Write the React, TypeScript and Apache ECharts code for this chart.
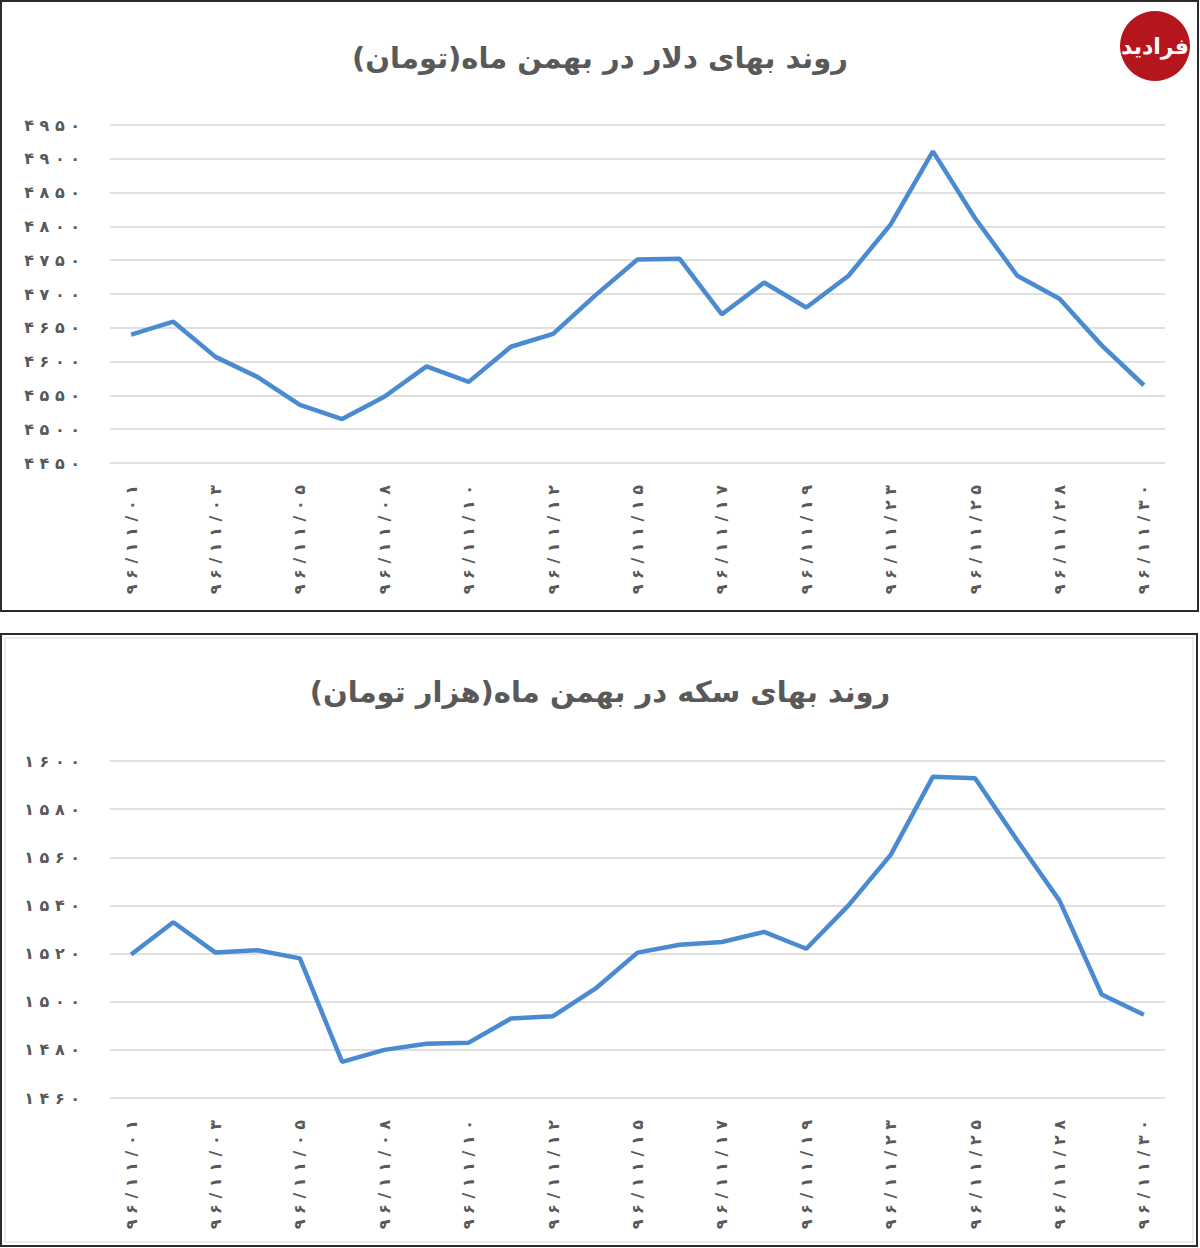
import React, { useEffect, useRef } from "react";
import * as echarts from "echarts";

const dates = ["01","02","03","04","05","07","08","09","10","11","12","14","15","16","17","18","19","21","23","24","25","26","28","29","30"].map((d) => "96/11/" + d);

const dollarValues = [4640, 4659, 4607, 4577, 4536, 4515, 4548, 4593, 4570, 4622, 4641, 4698, 4751, 4752, 4670, 4717, 4680, 4727, 4803, 4911, 4812, 4727, 4693, 4624, 4565];
const coinValues = [1519.6, 1533, 1520.4, 1521.4, 1518, 1475, 1480, 1482.5, 1483, 1493, 1494, 1505.4, 1520.4, 1523.7, 1524.8, 1529, 1522, 1540, 1561, 1593.5, 1592.8, 1567, 1542, 1503, 1494.6];

const dollarAxis = { min: 4450, max: 4950, interval: 50 };
const coinAxis = { min: 1460, max: 1600, interval: 20 };

const titleDollar = "روند بهای دلار در بهمن ماه(تومان)";
const titleCoin = "روند بهای سکه در بهمن ماه(هزار تومان)";
const logoText = "فرادید";

const FA = "۰۱۲۳۴۵۶۷۸۹";
const toFa = (s: string) => s.replace(/\d/g, (d) => FA[+d]);
const spaced = (s: string) => toFa(s).split("").join(" ");

const GRAY = "#595959";
const LINE = "#4a8ad0";

export default function App() {
  const ref = useRef<HTMLDivElement>(null);
  useEffect(() => {
    const chart = echarts.init(ref.current!, null, { renderer: "svg" });
    const xAxisBase = (gi: number) => ({
      type: "category",
      gridIndex: gi,
      data: dates,
      boundaryGap: true,
      axisLine: { show: false },
      axisTick: { show: false },
      axisLabel: {
        interval: 1,
        rotate: 90,
        margin: 22,
        color: GRAY,
        fontSize: 16,
        fontWeight: "bold",
        fontFamily: "DejaVu Sans",
        formatter: (v: string) => spaced(v),
      },
    });
    const yAxisBase = (gi: number, a: any) => ({
      type: "value",
      gridIndex: gi,
      min: a.min,
      max: a.max,
      interval: a.interval,
      axisLine: { show: false },
      axisTick: { show: false },
      splitLine: { lineStyle: { color: "#d4d4d4", width: 1.5 } },
      axisLabel: {
        margin: 30,
        color: GRAY,
        fontSize: 16,
        fontWeight: "bold",
        fontFamily: "DejaVu Sans",
        formatter: (v: number) => spaced(String(v)),
      },
    });
    chart.setOption({
      animation: false,
      backgroundColor: "#ffffff",
      title: [
        {
          text: titleDollar,
          left: "center",
          top: 38,
          textStyle: { fontSize: 29, fontWeight: "bold", color: GRAY, fontFamily: "DejaVu Sans" },
        },
        {
          text: titleCoin,
          left: "center",
          top: 672,
          textStyle: { fontSize: 29, fontWeight: "bold", color: GRAY, fontFamily: "DejaVu Sans" },
        },
      ],
      grid: [
        { left: 110, right: 35, top: 125, height: 338 },
        { left: 110, right: 35, top: 761, height: 337 },
      ],
      xAxis: [xAxisBase(0), xAxisBase(1)],
      yAxis: [yAxisBase(0, dollarAxis), yAxisBase(1, coinAxis)],
      series: [
        {
          type: "line",
          xAxisIndex: 0,
          yAxisIndex: 0,
          data: dollarValues,
          symbol: "none",
          lineStyle: { color: LINE, width: 4.5 },
        },
        {
          type: "line",
          xAxisIndex: 1,
          yAxisIndex: 1,
          data: coinValues,
          symbol: "none",
          lineStyle: { color: LINE, width: 4.5 },
        },
      ],
      graphic: [
        { type: "rect", shape: { x: 1, y: 1, width: 1197, height: 610 }, style: { fill: "none", stroke: "#2b2b2b", lineWidth: 2 } },
        { type: "rect", shape: { x: 1, y: 634, width: 1196, height: 612 }, style: { fill: "none", stroke: "#2b2b2b", lineWidth: 2 } },
        { type: "rect", shape: { x: 5, y: 638, width: 1188, height: 604 }, style: { fill: "none", stroke: "#d8d8d8", lineWidth: 1 } },
        { type: "circle", shape: { cx: 1155, cy: 46, r: 35 }, style: { fill: "#b5161e" } },
        {
          type: "text",
          x: 1155,
          y: 46,
          style: {
            text: logoText,
            fill: "#ffffff",
            font: "bold 22px 'DejaVu Sans'",
            align: "center",
            verticalAlign: "middle",
          },
        },
      ],
    });
    return () => chart.dispose();
  }, []);
  return (
    <div
      ref={ref}
      style={{ position: "absolute", left: 0, top: 0, width: 1200, height: 1248 }}
    />
  );
}
